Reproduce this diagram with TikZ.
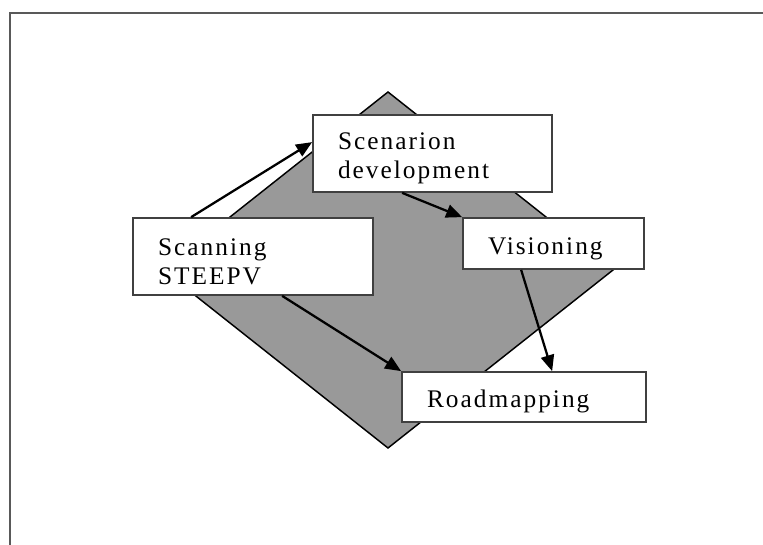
\documentclass[tikz,border=0pt]{standalone}
\usepackage{fontspec}
\setmainfont{Liberation Serif}[LetterSpace=8]
\usetikzlibrary{arrows.meta,calc}
\newdimen\px \px=0.75pt
\tikzset{
  stage/.style={draw=black!75, fill=white, line width=1.3pt, inner xsep=18.75pt, align=left,
    font=\fontsize{19pt}{21.75pt}\selectfont, execute at begin node={\rule{0pt}{20pt}}},
  flow/.style={line width=1.7pt, -{Triangle[length=12pt,width=10pt]}}
}
\begin{document}
\begin{tikzpicture}[x=0.75pt, y=-0.75pt]
      \useasboundingbox (0,0) rectangle (763,545);
      % frame
      \draw[black!65, line width=1.9pt] (10,545) -- (10,13) -- (763,13);

      % diamond
      \draw[fill=black!40, line width=1.1pt] (388,92) -- (613,270) -- (388,448) -- (163,270) -- cycle;

      \node[stage, minimum width=240\px, minimum height=77\px, text width=190\px] (scan) at (253,256.5) {Scanning\\STEEPV};
      \node[stage, minimum width=239\px, minimum height=77\px, text width=189\px] (scen) at (432.5,153.5) {Scenarion\\development};
      \node[stage, minimum width=181\px, minimum height=51\px, text width=131\px] (vis) at (553.5,243.5) {Visioning};
      \node[stage, minimum width=244\px, minimum height=50\px, text width=194\px] (road) at (524,397) {Roadmapping};

      \draw[flow] ($(scan.north west)+(59,0)$) -- ($(scen.north west)+(0,28)$);
      \draw[flow] ($(scen.south west)+(90,0)$) -- (vis.north west);
      \draw[flow] ($(scan.south west)+(150,0)$) -- (road.north west);
      \draw[flow] ($(vis.south west)+(59,0)$) -- ($(road.north west)+(151,0)$);
    \end{tikzpicture}
\end{document}
